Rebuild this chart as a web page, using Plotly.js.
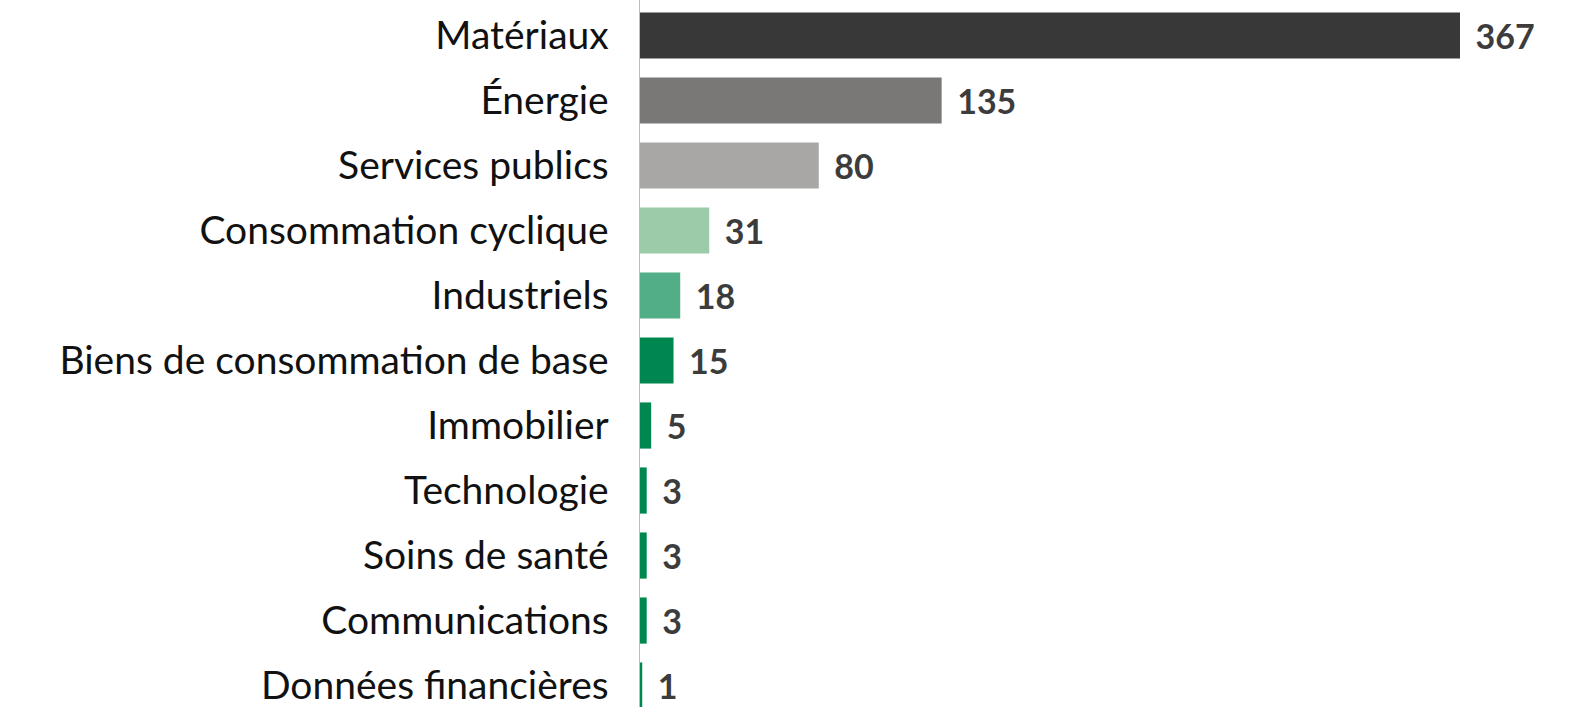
<!DOCTYPE html>
<html>
<head>
<meta charset="utf-8">
<script src="https://cdn.plot.ly/plotly-3.0.1.min.js"></script>
<style>html,body{margin:0;padding:0;background:#fff;}#chart{width:1582px;height:707px;}</style>
</head>
<body>
<div id="chart"></div>
<script>
const categories = ["Matériaux","Énergie","Services publics","Consommation cyclique","Industriels","Biens de consommation de base","Immobilier","Technologie","Soins de santé","Communications","Données financières"];
const values = [367,135,80,31,18,15,5,3,3,3,1];
const barColors = ["#383838","#7a7777","#a8a7a5","#9bcba8","#52ae87","#00874f","#00874f","#00874f","#00874f","#00874f","#00874f"];

const trace = {
  type: "bar",
  orientation: "h",
  y: categories,
  x: values,
  marker: {color: barColors, line: {width: 0}},
  text: values.map(v => "\u00a0\u2009" + v),
  textposition: "outside",
  cliponaxis: false,
  textfont: {family: "Lato, sans-serif", size: 34, color: "#3c3c3c", weight: 700},
  hoverinfo: "none"
};

const layout = {
  width: 1582, height: 707,
  margin: {l: 640, r: 0, t: 0, b: 0, pad: 0},
  paper_bgcolor: "#ffffff", plot_bgcolor: "#ffffff",
  bargap: 0.29,
  showlegend: false,
  xaxis: {range: [0, 421.6], showgrid: false, zeroline: false, showticklabels: false, showline: false, ticks: ""},
  yaxis: {
    type: "category", autorange: false, range: [10.33, -0.546],
    showgrid: false, zeroline: false,
    showline: true, linecolor: "#bdbdbd", linewidth: 1.5,
    ticks: "", ticklabelstandoff: 22,
    tickfont: {family: "Lato, sans-serif", size: 39, color: "#111111"}
  }
};

Plotly.newPlot("chart", [trace], layout, {staticPlot: true, displayModeBar: false});
</script>
</body>
</html>
